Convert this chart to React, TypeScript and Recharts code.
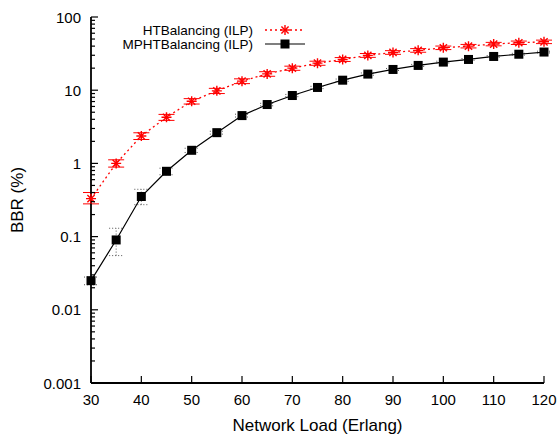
import React from 'react';
import { LineChart, Line, XAxis, YAxis, ErrorBar, Legend } from 'recharts';

const FONT = '"Liberation Sans", Arial, Helvetica, sans-serif';

const loads = [30, 35, 40, 45, 50, 55, 60, 65, 70, 75, 80, 85, 90, 95, 100, 105, 110, 115, 120];
const htValues = [0.33, 1.0, 2.37, 4.27, 7.07, 9.8, 13.3, 16.7, 20, 23.4, 26.3, 29.9, 32.8, 35, 38, 40, 42.7, 44.5, 45.8];
const htErrors = [
  [0.05, 0.07], [0.11, 0.12], [0.25, 0.25], [0.4, 0.4], [0.6, 0.6], [0.8, 0.8], [1.0, 1.0], [1.2, 1.2], [1.3, 1.3],
  [1.5, 1.5], [1.6, 1.6], [1.8, 1.8], [1.9, 1.9], [2.0, 2.0], [2.1, 2.1], [2.2, 2.2], [2.3, 2.3], [2.4, 2.4], [2.5, 2.5],
];
const mphtValues = [0.025, 0.09, 0.353, 0.78, 1.51, 2.63, 4.5, 6.37, 8.46, 10.9, 13.7, 16.6, 19.2, 21.8, 24.2, 26.3, 28.9, 31, 33.2];
const mphtErrors = [
  [0.003, 0.003], [0.035, 0.04], [0.08, 0.09], [0.08, 0.08], [0.1, 0.1], [0.12, 0.12], [0.2, 0.2], [0.25, 0.25], [0.3, 0.3],
  [0.4, 0.4], [0.5, 0.5], [0.6, 0.6], [0.6, 0.6], [0.7, 0.7], [0.7, 0.7], [0.8, 0.8], [0.8, 0.8], [0.9, 0.9], [0.9, 0.9],
];

const xTicks = [30, 40, 50, 60, 70, 80, 90, 100, 110, 120];
const yMajorTicks = [0.001, 0.01, 0.1, 1, 10, 100];
const yMajorLabels = ['0.001', '0.01', '0.1', '1', '10', '100'];
const minorMultipliers = [2, 3, 4, 5, 6, 7, 8, 9];
const yAllTicks: number[] = [];
yMajorTicks.forEach((m, i) => {
  yAllTicks.push(m);
  if (i < yMajorTicks.length - 1) minorMultipliers.forEach((k) => yAllTicks.push(+(m * k).toPrecision(3)));
});

const seriesNames = ['HTBalancing (ILP)', 'MPHTBalancing (ILP)'];

const data = loads.map((load, i) => ({
  load,
  ht: htValues[i],
  htErr: htErrors[i],
  mpht: mphtValues[i],
  mphtErr: mphtErrors[i],
}));

const RED = '#ff0000';

const Asterisk = ({ cx, cy, r = 5 }: any) => {
  const d = r * 0.72;
  return (
    <g stroke={RED} strokeWidth={1.4}>
      <line x1={cx - r} y1={cy} x2={cx + r} y2={cy} />
      <line x1={cx} y1={cy - r} x2={cx} y2={cy + r} />
      <line x1={cx - d} y1={cy - d} x2={cx + d} y2={cy + d} />
      <line x1={cx - d} y1={cy + d} x2={cx + d} y2={cy - d} />
    </g>
  );
};

const Square = ({ cx, cy, s = 9 }: any) => (
  <rect x={cx - s / 2} y={cy - s / 2} width={s} height={s} fill="#000" />
);

const AsteriskDot = (props: any) => {
  const { cx, cy, index } = props;
  if (cx == null || cy == null) return <g key={index} />;
  return <Asterisk key={index} cx={cx} cy={cy} />;
};

const SquareDot = (props: any) => {
  const { cx, cy, index } = props;
  if (cx == null || cy == null) return <g key={index} />;
  return <Square key={index} cx={cx} cy={cy} />;
};

const isMajor = (v: number) => yMajorTicks.some((m) => Math.abs(m - v) / m < 1e-6);

const LeftTick = (props: any) => {
  const { x, y, payload } = props;
  const v = payload.value;
  const major = isMajor(v);
  const idx = yMajorTicks.findIndex((m) => Math.abs(m - v) / m < 1e-6);
  return (
    <g>
      <line x1={x} x2={x + (major ? 7 : 4)} y1={y} y2={y} stroke="#000" strokeWidth={1.2} />
      {major && (
        <text x={x - 10} y={y + 5.5} textAnchor="end" fontSize={15} fontFamily={FONT} fill="#000">
          {yMajorLabels[idx]}
        </text>
      )}
    </g>
  );
};

const RightTick = (props: any) => {
  const { x, y, payload } = props;
  const major = isMajor(payload.value);
  return <line x1={x} x2={x - (major ? 7 : 4)} y1={y} y2={y} stroke="#000" strokeWidth={1.2} />;
};

const BottomTick = (props: any) => {
  const { x, y, payload } = props;
  return (
    <g>
      <line x1={x} x2={x} y1={y} y2={y - 7} stroke="#000" strokeWidth={1.2} />
      <text x={x} y={y + 22} textAnchor="middle" fontSize={15} fontFamily={FONT} fill="#000">
        {payload.value}
      </text>
    </g>
  );
};

const TopTick = (props: any) => {
  const { x, y } = props;
  return <line x1={x} x2={x} y1={y} y2={y + 7} stroke="#000" strokeWidth={1.2} />;
};

const XLabel = (props: any) => {
  const { viewBox } = props;
  const cx = viewBox.x + viewBox.width / 2;
  return (
    <text x={cx} y={viewBox.y + 48} textAnchor="middle" fontSize={17} fontFamily={FONT} fill="#000">
      Network Load (Erlang)
    </text>
  );
};

const YLabel = (props: any) => {
  const { viewBox } = props;
  const cy = viewBox.y + viewBox.height / 2;
  const cx = viewBox.x + 23;
  return (
    <text x={cx} y={cy} textAnchor="middle" fontSize={17} fontFamily={FONT} fill="#000" transform={`rotate(-90 ${cx} ${cy})`}>
      BBR (%)
    </text>
  );
};

const LegendContent = () => (
  <svg width={230} height={36} style={{ overflow: 'visible' }}>
    <text x={153} y={14.5} textAnchor="end" fontSize={13.5} fontFamily={FONT} fill="#000">{seriesNames[0]}</text>
    <line x1={165} x2={205} y1={10} y2={10} stroke={RED} strokeWidth={1.3} strokeDasharray="2 3" />
    <Asterisk cx={185} cy={10} />
    <text x={153} y={28.5} textAnchor="end" fontSize={13.5} fontFamily={FONT} fill="#000">{seriesNames[1]}</text>
    <line x1={165} x2={205} y1={24} y2={24} stroke="#000" strokeWidth={1.2} />
    <Square cx={185} cy={24} />
  </svg>
);

export default function App() {
  return (
    <div style={{ position: 'absolute', left: 0, top: 0, width: 559, height: 436, background: '#fff' }}>
      <LineChart width={559} height={436} data={data} margin={{ top: 17, right: 15, bottom: 0, left: 0 }}>
        <XAxis
          xAxisId="bottom"
          dataKey="load"
          type="number"
          domain={[30, 120]}
          ticks={xTicks}
          orientation="bottom"
          height={53}
          tickSize={0}
          tickMargin={0}
          tickLine={false}
          tick={<BottomTick />}
          axisLine={{ stroke: '#000', strokeWidth: 1.8 }}
          interval={0}
          label={<XLabel />}
        />
        <XAxis
          xAxisId="top"
          dataKey="load"
          type="number"
          domain={[30, 120]}
          ticks={xTicks}
          orientation="top"
          height={0}
          tickSize={0}
          tickMargin={0}
          tickLine={false}
          tick={<TopTick />}
          axisLine={{ stroke: '#000', strokeWidth: 1.8 }}
          interval={0}
        />
        <YAxis
          yAxisId="left"
          scale="log"
          type="number"
          domain={[0.001, 100]}
          ticks={yAllTicks}
          allowDataOverflow
          width={91}
          tickSize={0}
          tickMargin={0}
          tickLine={false}
          tick={<LeftTick />}
          axisLine={{ stroke: '#000', strokeWidth: 1.8 }}
          interval={0}
          label={<YLabel />}
        />
        <YAxis
          yAxisId="right"
          orientation="right"
          scale="log"
          type="number"
          domain={[0.001, 100]}
          ticks={yAllTicks}
          allowDataOverflow
          width={0}
          tickSize={0}
          tickMargin={0}
          tickLine={false}
          tick={<RightTick />}
          axisLine={{ stroke: '#000', strokeWidth: 1.8 }}
          interval={0}
        />
        <Legend
          content={<LegendContent />}
          layout="vertical"
          align="center"
          verticalAlign="middle"
          wrapperStyle={{ position: 'absolute', left: 100, top: 20, width: 230, height: 36 }}
        />
        <Line
          xAxisId="top"
          yAxisId="right"
          dataKey="ht"
          stroke="none"
          dot={false}
          activeDot={false}
          legendType="none"
          isAnimationActive={false}
        />
        <Line
          xAxisId="bottom"
          yAxisId="left"
          dataKey="mpht"
          name={seriesNames[1]}
          stroke="#000"
          strokeWidth={1.2}
          dot={<SquareDot />}
          activeDot={false}
          isAnimationActive={false}
        >
          <ErrorBar dataKey="mphtErr" width={7} stroke="#555" strokeWidth={1} strokeDasharray="1 2" direction="y" isAnimationActive={false} />
        </Line>
        <Line
          xAxisId="bottom"
          yAxisId="left"
          dataKey="ht"
          name={seriesNames[0]}
          stroke={RED}
          strokeWidth={1.3}
          strokeDasharray="2 3"
          dot={<AsteriskDot />}
          activeDot={false}
          isAnimationActive={false}
        >
          <ErrorBar dataKey="htErr" width={8} stroke={RED} strokeWidth={1} direction="y" isAnimationActive={false} />
        </Line>
      </LineChart>
    </div>
  );
}
